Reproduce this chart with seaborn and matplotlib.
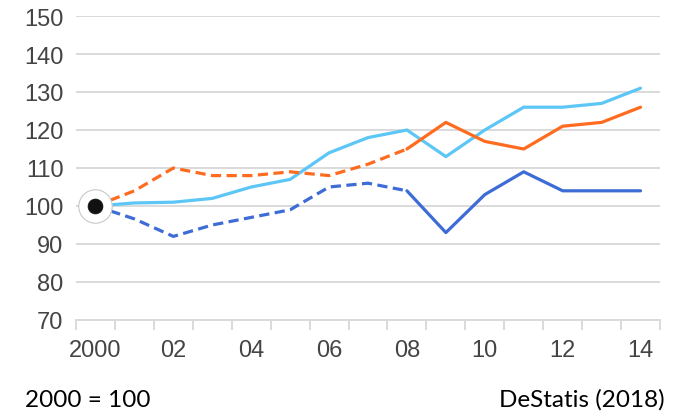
import matplotlib
matplotlib.use("Agg")
import matplotlib.pyplot as plt
import seaborn as sns
import pandas as pd
import numpy as np
from matplotlib.ticker import FixedLocator

# Index values, 2000 = 100
years = list(range(2000, 2015))
light_blue = [100, 100.8, 101, 102, 105, 107, 114, 118, 120, 113, 120, 126, 126, 127, 131]
orange = [100, 104, 110, 108, 108, 109, 108, 111, 115, 122, 117, 115, 121, 122, 126]
dark_blue = [100, 96.6, 92, 95, 97, 99, 105, 106, 104, 93, 103, 109, 104, 104, 104]
dashed_until = 2008  # projected part of the two series is drawn dashed
tick_labels = ["2000", "02", "04", "06", "08", "10", "12", "14"]
base_year, base_value = 2000, 100

C_LIGHT = "#5cc6f7"
C_ORANGE = "#ff6b1f"
C_DARK = "#3d6cd6"

sns.set_theme(style="white")
plt.rcParams["font.family"] = ["Liberation Sans", "DejaVu Sans"]

fig = plt.figure(figsize=(6.73, 4.14), dpi=100)
W, H = 673, 414
left, right, top, bottom = 76, 660, 17, 321
ax = fig.add_axes([left / W, 1 - bottom / H, (right - left) / W, (bottom - top) / H])

df = pd.DataFrame({"year": years, "light": light_blue, "orange": orange, "dark": dark_blue})
early = df[df["year"] <= dashed_until]
late = df[df["year"] >= dashed_until]

lw = 2.3
dash = (0, (3.2, 1.7))
sns.lineplot(data=df, x="year", y="light", color=C_LIGHT, lw=lw, ax=ax, zorder=3)
sns.lineplot(data=early, x="year", y="orange", color=C_ORANGE, lw=lw, ax=ax,
             zorder=3, dashes=False, linestyle=dash)
sns.lineplot(data=late, x="year", y="orange", color=C_ORANGE, lw=lw, ax=ax, zorder=3)
sns.lineplot(data=early, x="year", y="dark", color=C_DARK, lw=lw, ax=ax,
             zorder=3, dashes=False, linestyle=dash)
sns.lineplot(data=late, x="year", y="dark", color=C_DARK, lw=lw, ax=ax, zorder=3)

# base-year marker: black dot with white halo and thin grey ring
sns.scatterplot(x=[base_year], y=[base_value], s=580, color="white",
                edgecolor="#c8c8c8", linewidth=0.8, ax=ax, zorder=5)
sns.scatterplot(x=[base_year], y=[base_value], s=115, color="#111111",
                edgecolor="#111111", linewidth=0.5, ax=ax, zorder=6)

ax.set_xlim(years[0] - 0.5, years[-1] + 0.5)
ax.set_ylim(70, 150)
ax.set_xlabel("")
ax.set_ylabel("")

ax.set_yticks(np.arange(70, 151, 10))
ax.yaxis.grid(True, color="#dadada", lw=1.4)
ax.set_axisbelow(True)
for s in ["top", "right", "left"]:
    ax.spines[s].set_visible(False)
ax.spines["bottom"].set_color("#dadada")
ax.spines["bottom"].set_linewidth(1.4)

ax.set_xticks(years[::2])
ax.set_xticklabels(tick_labels)
ax.xaxis.set_minor_locator(FixedLocator(np.arange(years[0] - 0.5, years[-1] + 1, 1)))
ax.tick_params(axis="x", which="major", length=0, pad=14, labelsize=17, labelcolor="#444444")
ax.tick_params(axis="x", which="minor", length=7, width=1.4, color="#dadada", bottom=True)
ax.tick_params(axis="y", length=0, pad=9, labelsize=17, labelcolor="#444444")

fig.text(25 / W, 1 - 407 / H, "2000 = 100", fontsize=17.5, family=["Lato", "DejaVu Sans"],
         color="black", ha="left", va="baseline")
fig.text(665 / W, 1 - 407 / H, "DeStatis (2018)", fontsize=17.5, family=["Lato", "DejaVu Sans"],
         color="black", ha="right", va="baseline")

fig.savefig("out.png", dpi=100, facecolor="white")
